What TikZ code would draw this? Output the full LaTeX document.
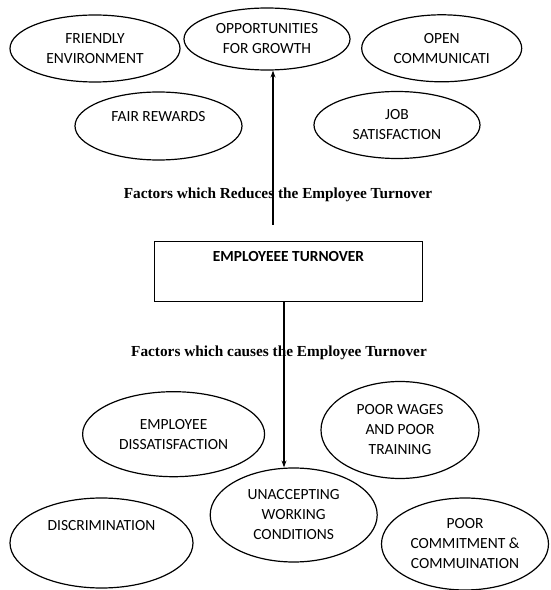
\documentclass[tikz,border=0pt]{standalone}
\usepackage{fontspec}
\setmainfont{Liberation Serif}
\newfontfamily\factorfont{Carlito}
\usetikzlibrary{shapes.geometric,arrows.meta}

\begin{document}
\begin{tikzpicture}[x=1pt, y=1pt,
        factor/.style={ellipse, draw, line width=1.2pt, inner sep=0pt, align=center,
          font=\factorfont\fontsize{15.5}{20}\selectfont},
        mainbox/.style={rectangle, draw, line width=1.2pt, minimum width=268pt,
          minimum height=60pt, align=center, font=\factorfont\bfseries\fontsize{15.4}{20}\selectfont},
        heading/.style={font=\bfseries\fontsize{15.3}{17}\selectfont},
        flow/.style={line width=1.4pt, -{Stealth[length=7pt,width=5pt]}}
      ]
      \useasboundingbox (0,0) rectangle (550,590);

      % factors which reduce turnover
      \node[factor, minimum width=170pt, minimum height=67pt] (friendly) at ( 95.0,541.5) {FRIENDLY\\ENVIRONMENT};
      \node[factor, minimum width=166pt, minimum height=62pt] (growth)   at (267.0,551.0) {OPPORTUNITIES\\FOR GROWTH};
      \node[factor, minimum width=160pt, minimum height=67pt] (openness) at (441.7,541.7) {OPEN\\COMMUNICATI};
      \node[factor, minimum width=167pt, minimum height=68pt] (rewards)  at (158.5,464.0) {FAIR REWARDS\\ \mbox{}};
      \node[factor, minimum width=166pt, minimum height=67pt] (jobsat)   at (397.0,465.0) {JOB\\SATISFACTION};

      \node[heading] (reduce) at (278,395) {Factors which Reduces the Employee Turnover};
      \node[mainbox] (turnover) at (288.5,318.3) {EMPLOYEEE TURNOVER\\[10pt]\mbox{}};
      \node[heading] (cause) at (279,237) {Factors which causes the Employee Turnover};

      % factors which cause turnover
      \node[factor, minimum width=182pt, minimum height=85pt] (dissat)   at (173.6,155.8) {EMPLOYEE\\DISSATISFACTION};
      \node[factor, minimum width=158pt, minimum height=97pt] (wages)    at (400.0,160.0) {POOR WAGES\\AND POOR\\TRAINING};
      \node[factor, minimum width=167pt, minimum height=94pt] (unaccept) at (293.7, 75.0) {UNACCEPTING\\WORKING\\CONDITIONS};
      \node[factor, minimum width=183pt, minimum height=90pt] (discrim)  at (101.5, 47.0) {DISCRIMINATION\\[16pt]\mbox{}};
      \node[factor, minimum width=167pt, minimum height=92pt] (commit)   at (465.0, 46.0) {POOR\\COMMITMENT \&\\COMMUINATION};

      \coordinate (upstart) at (273,365);
      \draw[flow] (upstart) -- ([xshift=6pt]growth.south);
      \draw[flow] ([xshift=-4.5pt]turnover.south) -- ([xshift=-9.7pt]unaccept.north);

    \end{tikzpicture}
\end{document}
